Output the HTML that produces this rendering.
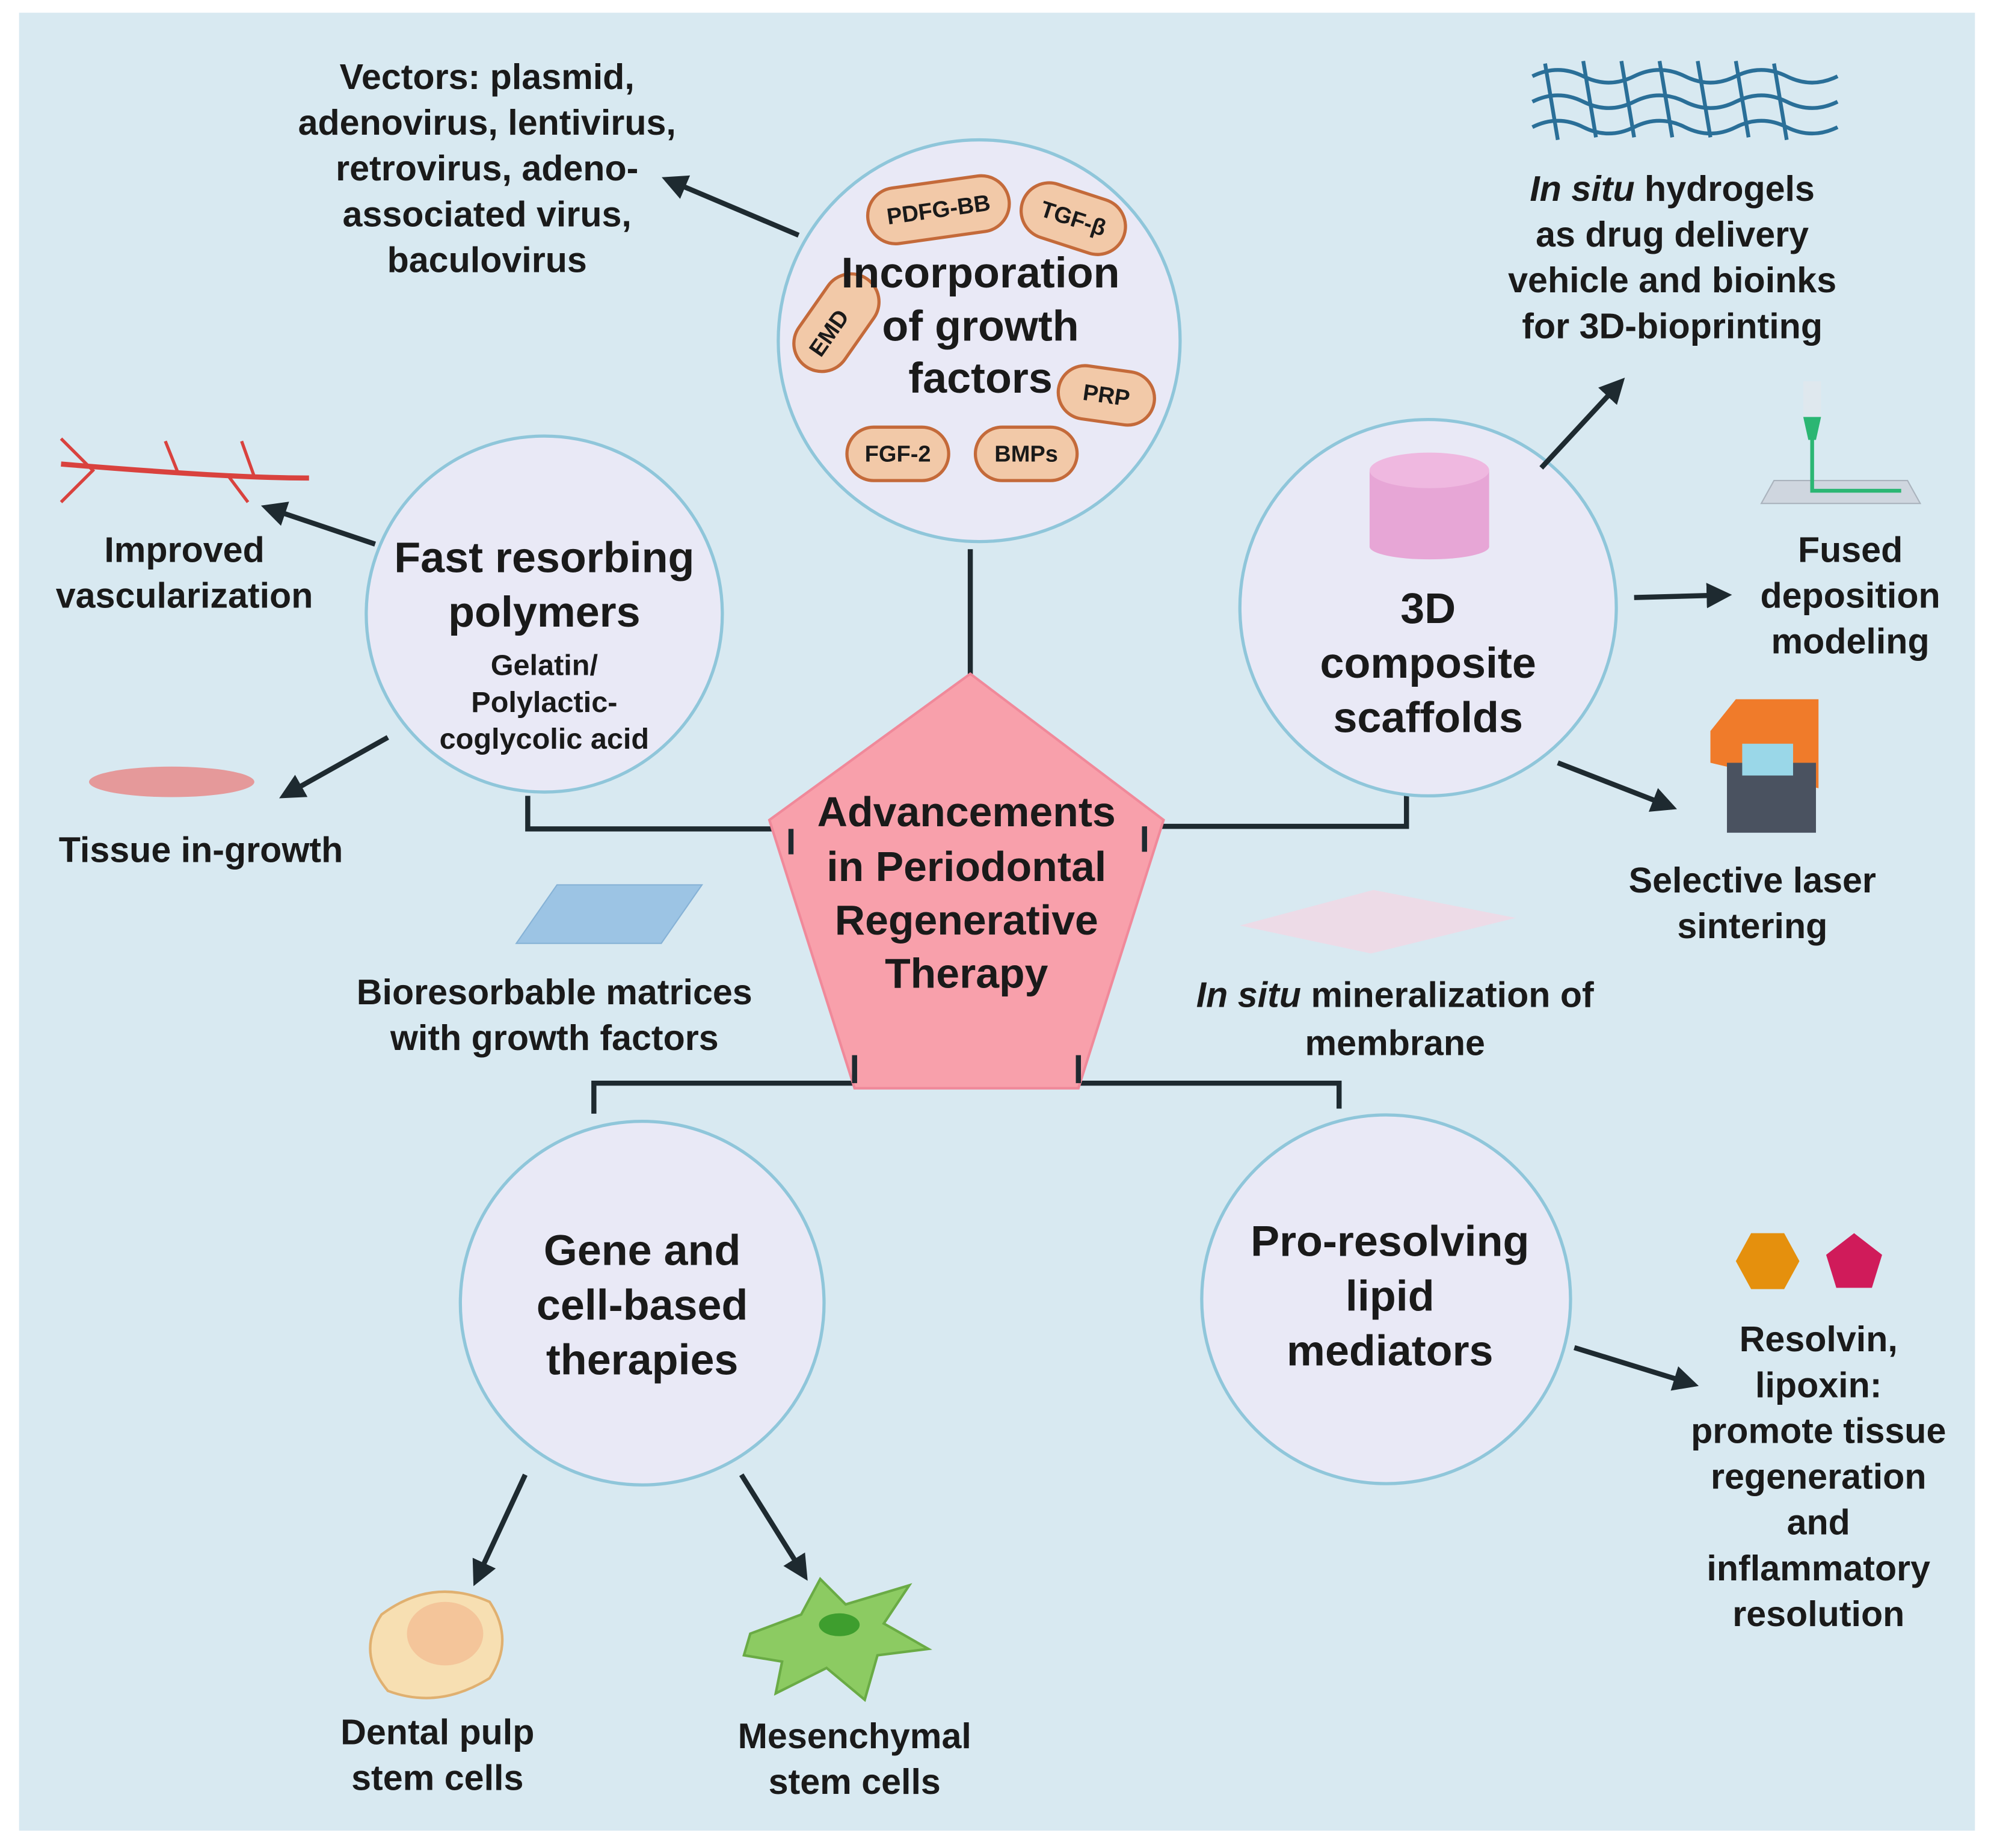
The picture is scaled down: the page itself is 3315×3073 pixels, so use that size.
<!DOCTYPE html>
<html><head><meta charset="utf-8"><style>
html,body{margin:0;padding:0;background:#fff}
svg{display:block}
text{font-family:"Liberation Sans",sans-serif;font-weight:bold;fill:#1a1a1a}
</style></head><body>
<svg width="3315" height="3073" viewBox="0 0 1568 1453.6" preserveAspectRatio="none" xmlns="http://www.w3.org/2000/svg">
<defs>
<marker id="ah" viewBox="0 0 10 10" refX="8" refY="5" markerWidth="5" markerHeight="5" orient="auto"><path d="M0,0 L10,5 L0,10 z" fill="#1e2a30"/></marker>
</defs>
<rect x="0" y="0" width="1568" height="1454" fill="#fff"/>
<rect x="15" y="10" width="1538" height="1430" fill="#d8e9f1"/>

<!-- connectors -->
<g stroke="#1e2a30" stroke-width="4" fill="none">
<line x1="763" y1="432" x2="763" y2="550"/>
<polyline points="415,626 415,652 622,652 622,672"/>
<polyline points="1106,626 1106,650 900,650 900,670"/>
<polyline points="672,830 672,852 467,852 467,876"/>
<polyline points="848,830 848,852 1053,852 1053,872"/>
</g>

<!-- pentagon -->
<polygon points="763,530 915,645 848,856 672,856 605,645" fill="#f8a0ab" stroke="#f0899a" stroke-width="2"/>
<g stroke="#1e2a30" stroke-width="4" fill="none">
<polyline points="622,652 622,672"/><polyline points="900,650 900,670"/>
<polyline points="672,830 672,852"/><polyline points="848,830 848,852"/>
</g>
<g font-size="33" text-anchor="middle">
<text x="760" y="650">Advancements</text>
<text x="760" y="693">in Periodontal</text>
<text x="760" y="735">Regenerative</text>
<text x="760" y="777">Therapy</text>
</g>

<!-- circles -->
<g fill="#e9e9f6" stroke="#8fc6da" stroke-width="2.5">
<circle cx="770" cy="268" r="158"/>
<circle cx="428" cy="483" r="140"/>
<circle cx="1123" cy="478" r="148"/>
<circle cx="505" cy="1025" r="143"/>
<circle cx="1090" cy="1022" r="145"/>
</g>

<!-- pills -->
<g fill="#f2c9a8" stroke="#c46a3a" stroke-width="2.5">
<rect x="682" y="143" width="112" height="44" rx="22" transform="rotate(-8 738 165)"/>
<rect x="802" y="150" width="84" height="44" rx="22" transform="rotate(18 844 172)"/>
<rect x="620" y="240" width="84" height="44" rx="22" transform="rotate(-55 652 262)"/>
<rect x="832" y="290" width="76" height="42" rx="21" transform="rotate(8 870 311)"/>
<rect x="666" y="336" width="80" height="42" rx="21"/>
<rect x="767" y="336" width="80" height="42" rx="21"/>
</g>
<g font-size="18" text-anchor="middle" font-weight="bold">
<text x="738" y="171" transform="rotate(-8 738 165)">PDFG-BB</text>
<text x="844" y="178" transform="rotate(18 844 172)">TGF-β</text>
<text x="652" y="268" transform="rotate(-55 652 262)">EMD</text>
<text x="870" y="317" transform="rotate(8 870 311)">PRP</text>
<text x="706" y="363">FGF-2</text>
<text x="807" y="363">BMPs</text>
</g>

<g font-size="34" text-anchor="middle">
<text x="771" y="226">Incorporation</text>
<text x="771" y="268">of growth</text>
<text x="771" y="309">factors</text>
<text x="428" y="450">Fast resorbing</text>
<text x="428" y="493">polymers</text>
<text x="1123" y="490">3D</text>
<text x="1123" y="533">composite</text>
<text x="1123" y="576">scaffolds</text>
<text x="505" y="995">Gene and</text>
<text x="505" y="1038">cell-based</text>
<text x="505" y="1081">therapies</text>
<text x="1093" y="988">Pro-resolving</text>
<text x="1093" y="1031">lipid</text>
<text x="1093" y="1074">mediators</text>
</g>
<g font-size="23" text-anchor="middle">
<text x="428" y="531">Gelatin/</text>
<text x="428" y="560">Polylactic-</text>
<text x="428" y="589">coglycolic acid</text>
</g>

<!-- arrows -->
<g stroke="#1e2a30" stroke-width="4" marker-end="url(#ah)">
<line x1="628" y1="185" x2="524" y2="141"/>
<line x1="295" y1="428" x2="209" y2="399"/>
<line x1="305" y1="580" x2="223" y2="626"/>
<line x1="1212" y1="368" x2="1275" y2="300"/>
<line x1="1285" y1="470" x2="1358" y2="468"/>
<line x1="1225" y1="600" x2="1315" y2="635"/>
<line x1="413" y1="1160" x2="374" y2="1244"/>
<line x1="583" y1="1160" x2="633" y2="1240"/>
<line x1="1238" y1="1060" x2="1332" y2="1089"/>
</g>

<!-- labels -->
<g font-size="28" text-anchor="middle">
<text x="383" y="70">Vectors: plasmid,</text>
<text x="383" y="106">adenovirus, lentivirus,</text>
<text x="383" y="142">retrovirus, adeno-</text>
<text x="383" y="178">associated virus,</text>
<text x="383" y="214">baculovirus</text>
<text x="1315" y="158"><tspan font-style="italic">In situ</tspan> hydrogels</text>
<text x="1315" y="194">as drug delivery</text>
<text x="1315" y="230">vehicle and bioinks</text>
<text x="1315" y="266">for 3D-bioprinting</text>
<text x="145" y="442">Improved</text>
<text x="145" y="478">vascularization</text>
<text x="158" y="678">Tissue in-growth</text>
<text x="1455" y="442">Fused</text>
<text x="1455" y="478">deposition</text>
<text x="1455" y="514">modeling</text>
<text x="1378" y="702">Selective laser</text>
<text x="1378" y="738">sintering</text>
<text x="436" y="790">Bioresorbable matrices</text>
<text x="436" y="826">with growth factors</text>
<text x="1097" y="792"><tspan font-style="italic">In situ</tspan> mineralization of</text>
<text x="1097" y="830">membrane</text>
<text x="1430" y="1063">Resolvin,</text>
<text x="1430" y="1099">lipoxin:</text>
<text x="1430" y="1135">promote  tissue</text>
<text x="1430" y="1171">regeneration</text>
<text x="1430" y="1207">and</text>
<text x="1430" y="1243">inflammatory</text>
<text x="1430" y="1279">resolution</text>
<text x="344" y="1372">Dental pulp</text>
<text x="344" y="1408">stem cells</text>
<text x="672" y="1375">Mesenchymal</text>
<text x="672" y="1411">stem cells</text>
</g>

<!-- icons -->
<!-- hydrogel mesh -->
<g stroke="#2a6f98" stroke-width="3" fill="none">
<path d="M1205,60 q20,-10 40,0 t40,0 t40,0 t40,0 t40,0 t40,0"/>
<path d="M1205,80 q20,-10 40,0 t40,0 t40,0 t40,0 t40,0 t40,0"/>
<path d="M1205,100 q20,-10 40,0 t40,0 t40,0 t40,0 t40,0 t40,0"/>
<path d="M1215,50 l10,60 M1245,48 l10,60 M1275,48 l10,60 M1305,48 l10,60 M1335,48 l10,60 M1365,48 l10,60 M1395,50 l10,60"/>
</g>
<!-- scaffold cylinder -->
<rect x="1077" y="370" width="94" height="60" fill="#e7a6d6"/>
<ellipse cx="1124" cy="370" rx="47" ry="14" fill="#efb8e0"/>
<ellipse cx="1124" cy="430" rx="47" ry="10" fill="#e7a6d6"/>
<!-- FDM printer -->
<rect x="1418" y="300" width="14" height="28" fill="#dfe8ee"/>
<path d="M1418,328 h14 l-4,18 h-6 z" fill="#2bb673"/>
<polygon points="1395,378 1500,378 1510,396 1385,396" fill="#cfd6df" stroke="#aab3bd"/>
<path d="M1425,346 v40 h70" stroke="#2bb673" stroke-width="3" fill="none"/>
<!-- SLA printer -->
<polygon points="1345,575 1365,550 1430,550 1430,620 1345,600" fill="#f07b2a"/>
<rect x="1358" y="600" width="70" height="55" fill="#4a5260"/>
<rect x="1370" y="585" width="40" height="25" fill="#9ad7e8"/>
<!-- vessel -->
<path d="M48,365 q60,5 110,8 t85,3" stroke="#d9423e" stroke-width="4" fill="none"/>
<path d="M48,345 l25,25 l-25,25 M140,372 l-10,-25 M200,375 l-10,-28 M180,375 l15,20" stroke="#d9423e" stroke-width="2.5" fill="none"/>
<!-- tissue -->
<ellipse cx="135" cy="615" rx="65" ry="12" fill="#e88585" opacity="0.8"/>
<!-- blue matrix -->
<polygon points="438,696 552,696 520,742 406,742" fill="#9cc4e4" stroke="#86b2d6"/>
<!-- pink membrane -->
<polygon points="1080,700 1192,722 1078,750 975,728" fill="#efd9e6" opacity="0.9"/>
<!-- shapes -->
<polygon points="1377,970 1403,970 1415,992 1403,1014 1377,1014 1365,992" fill="#e5900d"/>
<polygon points="1458,970 1480,987 1472,1013 1444,1013 1436,987" fill="#d01b5a"/>
<!-- dental pulp cell -->
<path d="M300,1270 q40,-30 85,-10 q20,30 0,60 q-40,25 -80,10 q-25,-30 -5,-60z" fill="#f7dfb2" stroke="#e0b070" stroke-width="2"/>
<ellipse cx="350" cy="1285" rx="30" ry="25" fill="#f4c59a"/>
<!-- MSC -->
<path d="M590,1285 l40,-15 l15,-28 l20,20 l50,-15 l-20,30 l35,20 l-40,5 l-10,35 l-30,-25 l-40,20 l5,-25 l-30,-5 z" fill="#8ccb62" stroke="#6aab45" stroke-width="2"/>
<ellipse cx="660" cy="1278" rx="16" ry="9" fill="#3e9e2e"/>
</svg>
</body></html>
